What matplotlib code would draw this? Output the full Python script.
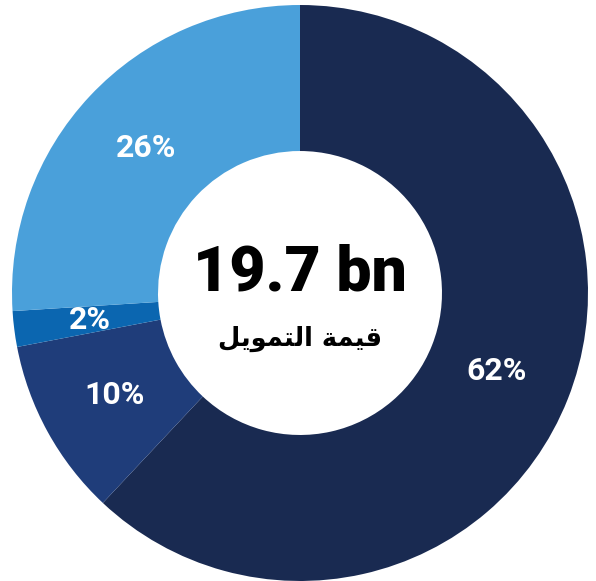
import matplotlib

matplotlib.use("Agg")

import matplotlib.pyplot as plt

# shares of the total, clockwise from 12 o'clock
labels = ["62%", "10%", "2%", "26%"]
values = [62, 10, 2, 26]
colors = ["#192a51", "#1f3d7a", "#0b66b0", "#4aa0da"]
total_text = "19.7 bn"
# "قيمة التمويل" written in shaped presentation forms, visual order
caption = "\ufede\ufef3\ufeee\ufee4\ufe98\ufedf\ufe8d \ufe94\ufee4\ufef4\ufed7"

W, H = 596, 581
R_PX = 288
CX, CY = 300, 293

fig = plt.figure(figsize=(W / 100, H / 100), dpi=100)
ax = fig.add_axes([0, 0, 1, 1])

wedges, texts, autotexts = ax.pie(
    values,
    colors=colors,
    startangle=90,
    counterclock=False,
    radius=1.0,
    autopct=lambda p: f"{p:.0f}%",
    pctdistance=0.735,
    wedgeprops=dict(width=0.507, linewidth=0),
    textprops=dict(color="white", fontsize=23, fontweight="bold", family=["Roboto", "DejaVu Sans"]),
)

# pie() resets the limits, so place the circle afterwards
ax.set_xlim(-CX / R_PX, (W - CX) / R_PX)
ax.set_ylim(-(H - CY) / R_PX, CY / R_PX)
ax.set_aspect("equal")
ax.axis("off")

ax.text(0, 0.066, total_text, ha="center", va="center", fontsize=45,
        fontweight="heavy", family=["Roboto", "DejaVu Sans"], color="black")
ax.text(0, -0.16, caption, ha="center", va="center", fontsize=18.5,
        fontweight="bold", family=["DejaVu Sans"], color="black")

fig.savefig("out.png", dpi=100)
